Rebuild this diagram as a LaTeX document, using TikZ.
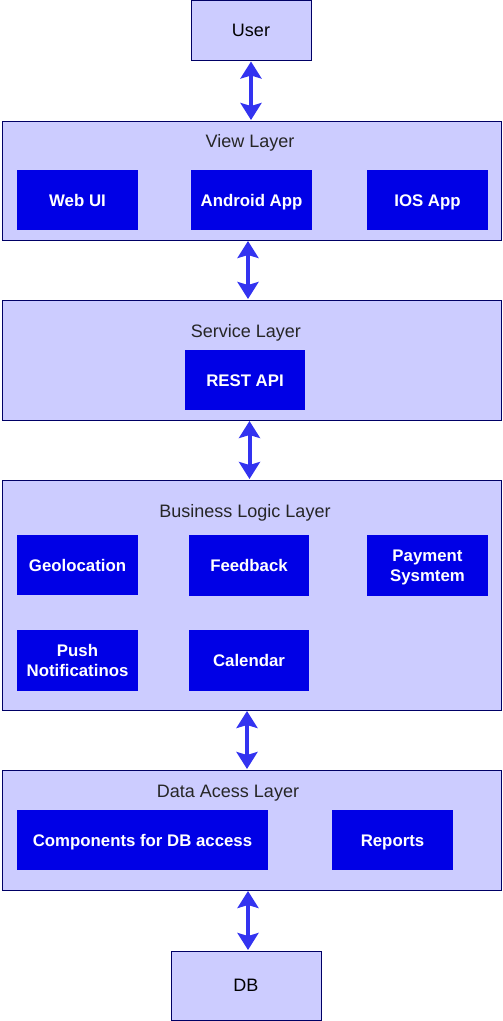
\documentclass[tikz,border=0pt]{standalone}
\usepackage{fontspec}
\setmainfont{Liberation Sans}
\usetikzlibrary{arrows.meta}
\definecolor{lay}{RGB}{204,204,255}
\definecolor{edge}{RGB}{0,0,102}
\definecolor{comp}{RGB}{0,0,230}
\definecolor{arrc}{RGB}{51,51,240}
\tikzset{
  layer/.style={draw=edge, fill=lay, line width=1pt, inner sep=0pt},
  endbox/.style={draw=edge, fill=lay, line width=1pt, inner sep=0pt, text height=12.5pt, text depth=0pt, font=\fontsize{18}{20}\selectfont},
  comp/.style={fill=comp, text=white, inner sep=0pt, align=center, text height=12pt, text depth=0pt, font=\fontsize{16.8}{20.5}\selectfont\bfseries},
  twoline/.style={text height=32.5pt, text depth=0pt},
  lbl/.style={inner sep=0pt, text height=12.5pt, text depth=0pt, font=\fontsize{18}{20}\selectfont, text=black!85},
  arr/.style={draw=arrc, line width=4pt, {Stealth[length=17pt,width=21pt,inset=3pt]}-{Stealth[length=17pt,width=21pt,inset=3pt]}, shorten <=0.5pt, shorten >=0.5pt, color=arrc}
}
\begin{document}
\begin{tikzpicture}[x=1pt,y=-1pt]
\useasboundingbox (0,0) rectangle (503,1021);
% layers
\node[endbox, minimum width=120pt, minimum height=60pt] (user) at (251,30.5) {User};
\node[layer, minimum width=499pt, minimum height=119pt] (view) at (251.5,180.5) {};
\node[layer, minimum width=499pt, minimum height=120pt] (service) at (251.5,360) {};
\node[layer, minimum width=499pt, minimum height=230pt] (business) at (251.5,595) {};
\node[layer, minimum width=499pt, minimum height=120pt] (data) at (251.5,830) {};
\node[endbox, minimum width=150pt, minimum height=69pt] (db) at (246,985.5) {DB};
% labels
\node[lbl] (viewl) at (250,141) {View Layer};
\node[lbl] (servl) at (246,331) {Service Layer};
\node[lbl] (busl) at (245,511) {Business Logic Layer};
\node[lbl] (datal) at (228,791) {Data Acess Layer};
% components
\node[comp, minimum width=121pt, minimum height=60pt] (web) at (77.5,200) {Web UI};
\node[comp, minimum width=121pt, minimum height=60pt] (android) at (251.5,200) {Android App};
\node[comp, minimum width=121pt, minimum height=60pt] (ios) at (427.5,200) {IOS App};
\node[comp, minimum width=120pt, minimum height=60pt] (rest) at (245,380) {REST API};
\node[comp, minimum width=121pt, minimum height=60pt] (geo) at (77.5,565) {Geolocation};
\node[comp, minimum width=120pt, minimum height=61pt] (feed) at (249,565.5) {Feedback};
\node[comp, twoline, minimum width=121pt, minimum height=61pt] (pay) at (427.5,565.5) {Payment\\Sysmtem};
\node[comp, twoline, minimum width=121pt, minimum height=61pt] (push) at (77.5,660.5) {Push\\Notificatinos};
\node[comp, minimum width=120pt, minimum height=61pt] (cal) at (249,660.5) {Calendar};
\node[comp, minimum width=251pt, minimum height=60pt] (dbacc) at (142.5,840) {Components for DB access};
\node[comp, minimum width=121pt, minimum height=60pt] (rep) at (392.5,840) {Reports};
% connectors
\draw[arr] (user.south -| 251,0) -- (view.north -| 251,0);
\draw[arr] (view.south -| 248,0) -- (service.north -| 248,0);
\draw[arr] (service.south -| 249.5,0) -- (business.north -| 249.5,0);
\draw[arr] (business.south -| 247,0) -- (data.north -| 247,0);
\draw[arr] (data.south -| 248,0) -- (db.north -| 248,0);
\end{tikzpicture}
\end{document}
